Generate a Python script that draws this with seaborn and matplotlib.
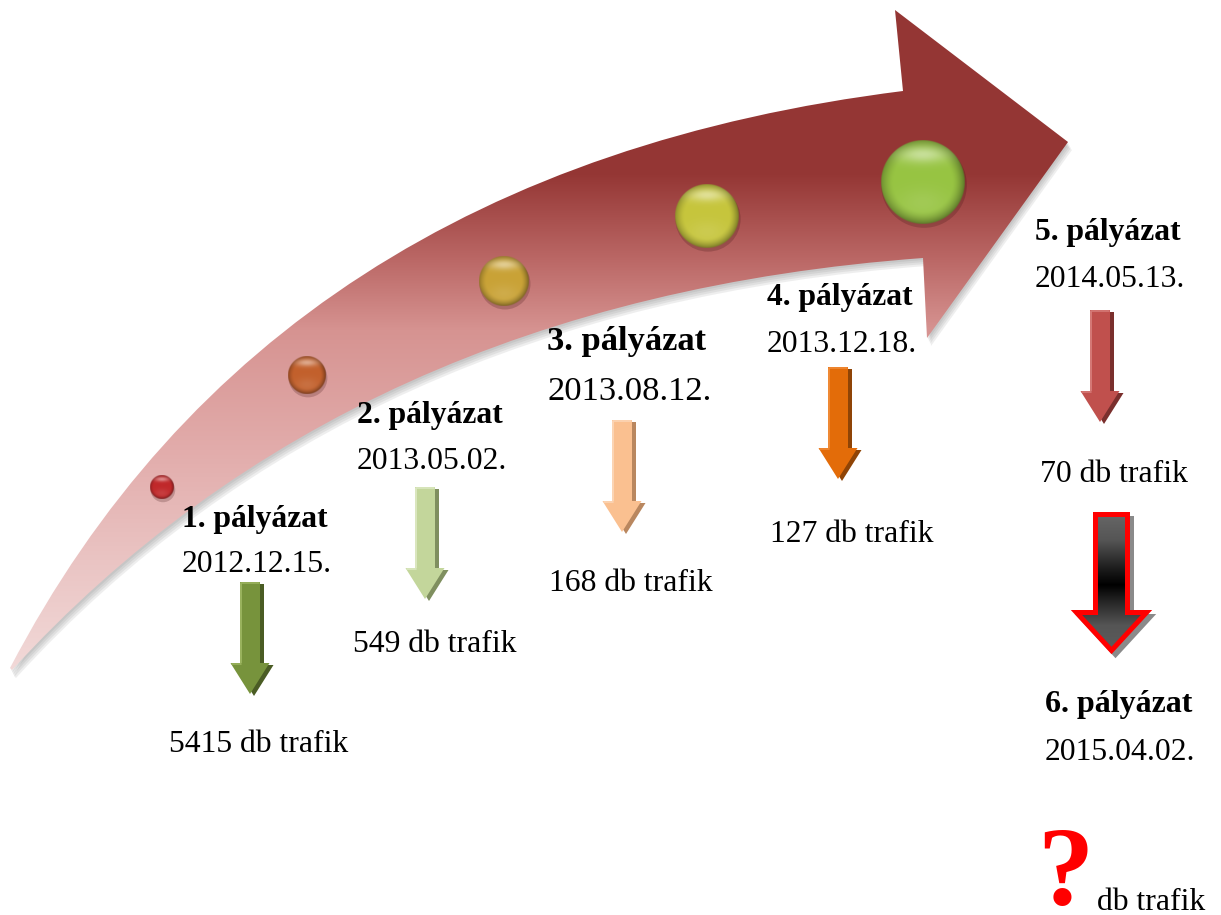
import numpy as np
import matplotlib
matplotlib.use("Agg")
import matplotlib.pyplot as plt
import seaborn as sns
from matplotlib.path import Path
from matplotlib.patches import PathPatch, Polygon
from matplotlib.colors import to_rgb

# ---------------- data ----------------
rounds = ["1. pályázat", "2. pályázat", "3. pályázat", "4. pályázat", "5. pályázat", "6. pályázat"]
dates = ["2012.12.15.", "2013.05.02.", "2013.08.12.", "2013.12.18.", "2014.05.13.", "2015.04.02."]
counts = [5415, 549, 168, 127, 70]
unknown_mark = "?"
unit_text = "db trafik"

# ---------------- layout (pixel coordinates) ----------------
W, H = 1221, 915
label_pos = [(255, 527), (430, 423), (627, 350), (840, 305), (1108, 240), (1119, 712)]
date_pos = [(257, 572), (432, 469), (630, 400), (842, 352), (1110, 287), (1120, 760)]
count_pos = [(259, 752), (435, 652), (631, 591), (852, 542), (1114, 482)]
label_fs = [22.8, 22.8, 24.8, 22.8, 22.8, 23.0]
date_fs = [22.8, 22.8, 24.8, 22.8, 22.8, 22.8]
arrow_cx = [250, 425, 622, 838, 1100]
arrow_top = [582, 487, 420, 367, 310]
arrow_len = 112
arrow_cols = ["#77933c", "#c3d69b", "#fac090", "#e36c09", "#c0504d"]
arrow_dark = ["#4a5c24", "#7f8f5f", "#b9875f", "#8f4406", "#7a2f2d"]
arrow_light = ["#9ab35e", "#dbe7c0", "#fcd5b5", "#f08a36", "#d57a77"]
ball_x = [162, 307, 504, 707, 923]
ball_y = [487, 375, 281, 216, 182]
ball_r = [12, 19, 25, 32, 42]
ball_cols = ["#c0282a", "#c2602c", "#c9a236", "#c6c53c", "#97c442"]

sns.set_theme(style="white")
plt.rcParams['font.family'] = ['Liberation Serif', 'DejaVu Serif']

fig = plt.figure(figsize=(W / 100, H / 100), dpi=100)
ax = fig.add_axes([0, 0, 1, 1])
ax.set_xlim(0, W)
ax.set_ylim(H, 0)
ax.set_axis_off()


def interp_colors(ys, stops):
    sy = [s[0] for s in stops]
    cs = np.array([to_rgb(s[1]) for s in stops])
    return np.stack([np.interp(ys, sy, cs[:, k]) for k in range(3)], axis=-1)


# ---------------- big curved arrow ----------------
verts = [(10, 668), (270, 170), (903, 91), (895, 10), (1068, 142), (927, 338),
         (923, 258), (350, 300), (12, 670), (10, 668)]
codes = [Path.MOVETO, Path.CURVE3, Path.CURVE3, Path.LINETO, Path.LINETO, Path.LINETO,
         Path.LINETO, Path.CURVE3, Path.CURVE3, Path.CLOSEPOLY]
big_path = Path(verts, codes)

# soft shadow
for k, (dx, dy) in enumerate([(1, 2), (2, 4), (3, 6), (4, 8)]):
    sp = Path(np.array(verts) + np.array([dx, dy]), codes)
    ax.add_patch(PathPatch(sp, facecolor="#606060", edgecolor="none", alpha=0.10, zorder=1))

clip_patch = PathPatch(big_path, facecolor="none", edgecolor="none", zorder=2)
ax.add_patch(clip_patch)
ys = np.arange(0, H) + 0.5
stops = [(0, "#943634"), (175, "#953735"), (260, "#bb6866"), (330, "#d69391"),
         (450, "#e2acab"), (560, "#eac4c3"), (690, "#f3dddc"), (915, "#f6e6e6")]
grad = interp_colors(ys, stops)[:, None, :]
im = ax.imshow(grad, extent=[0, W, H, 0], aspect="auto", interpolation="bilinear", zorder=2)
im.set_clip_path(clip_patch)

# ---------------- balls ----------------
bx = np.array(ball_x, float)
by = np.array(ball_y, float)
br = np.array(ball_r, float)
# drop shadows via seaborn
sns.scatterplot(x=bx + 1, y=by + 3, s=(2 * br * 0.72 * 1.02) ** 2, color="#3a1010",
                alpha=0.22, edgecolor="none", legend=False, ax=ax, zorder=3)

for cx, cy, r, c in zip(ball_x, ball_y, ball_r, ball_cols):
    n = 240
    u = np.linspace(-1, 1, n)
    U, V = np.meshgrid(u, u)
    D = np.sqrt(U ** 2 + V ** 2)
    base = np.array(to_rgb(c))
    dark = np.clip((D - 0.7) / 0.3, 0, 1) ** 1.5 * 0.38
    dark = dark * (0.7 + 0.3 * np.clip((U + V) / 1.4 + 0.5, 0, 1))
    col = base[None, None, :] * (1 - dark[..., None])
    hl = np.exp(-((U / 0.6) ** 2 + ((V + 0.66) / 0.2) ** 2)) * 0.45
    col = col * (1 - hl[..., None]) + hl[..., None]
    low = np.exp(-((U / 0.6) ** 2 + ((V - 0.5) / 0.35) ** 2)) * 0.10
    col = col * (1 - low[..., None]) + low[..., None]
    alpha = np.clip((1 - D) * r + 0.5, 0, 1)
    rgba = np.dstack([np.clip(col, 0, 1), alpha])
    ax.imshow(rgba, extent=[cx - r, cx + r, cy + r, cy - r], interpolation="bilinear", zorder=4)

# ---------------- small down arrows ----------------
def arrow_poly(cx, top, length, bw, hw, hl):
    hs = top + length - hl
    return [(cx - bw / 2, top), (cx + bw / 2, top), (cx + bw / 2, hs), (cx + hw / 2, hs),
            (cx, top + length), (cx - hw / 2, hs), (cx - bw / 2, hs)]

for cx, top, c, cd, cl in zip(arrow_cx, arrow_top, arrow_cols, arrow_dark, arrow_light):
    shadow = np.array(arrow_poly(cx, top, arrow_len, 20, 39, 31)) + np.array([4, 2])
    ax.add_patch(Polygon(shadow, closed=True, facecolor=cd, edgecolor="none", zorder=3))
    main = arrow_poly(cx, top, arrow_len, 20, 39, 31)
    ax.add_patch(Polygon(main, closed=True, facecolor=c, edgecolor="none", zorder=4))
    hs = top + arrow_len - 31
    ax.plot([cx - 9.5, cx - 9.5], [top + 1, hs], color=cl, lw=1.4, zorder=5, solid_capstyle="butt")
    ax.plot([cx - 9.5, cx + 9], [top + 0.8, top + 0.8], color=cl, lw=1.2, zorder=5)
    ax.plot([cx - 18.5, cx - 9.5], [hs + 0.6, hs + 0.6], color=cl, lw=1.2, zorder=5)

# ---------------- big black/red arrow ----------------
bcx = 1111.5
big = arrow_poly(bcx, 514.5, 136, 32, 70, 38)
sh = np.array(big) + np.array([4, 4])
ax.add_patch(Polygon(sh, closed=True, facecolor="#8a8a8a", edgecolor="#8a8a8a", lw=3.6, zorder=3))
bp = Polygon(big, closed=True, facecolor="none", edgecolor="none", zorder=4)
ax.add_patch(bp)
gstops = [(500, "#707070"), (540, "#555555"), (570, "#1a1a1a"), (585, "#000000"),
          (600, "#222222"), (625, "#555555"), (660, "#5e5e5e")]
g2 = interp_colors(ys, gstops)[:, None, :]
im2 = ax.imshow(g2, extent=[0, W, H, 0], aspect="auto", interpolation="bilinear", zorder=4)
im2.set_clip_path(bp)
ax.add_patch(Polygon(big, closed=True, facecolor="none", edgecolor="#ff0000", lw=3.6,
                     joinstyle="miter", zorder=5))

# ---------------- texts ----------------
FS = 22.8
for (x, y), t, fs in zip(label_pos, rounds, label_fs):
    ax.text(x, y, t, ha="center", va="baseline", fontsize=fs, fontweight="bold", color="black", zorder=6)
for (x, y), t, fs in zip(date_pos, dates, date_fs):
    ax.text(x, y, t, ha="center", va="baseline", fontsize=fs, color="black", zorder=6)
for (x, y), c in zip(count_pos, counts):
    ax.text(x, y, f"{c} {unit_text}", ha="center", va="baseline", fontsize=FS, color="black", zorder=6)
ax.text(1065, 904, unknown_mark, ha="center", va="baseline", fontsize=81, fontweight="bold",
        color="#ff0000", zorder=6)
ax.text(1097, 910, unit_text, ha="left", va="baseline", fontsize=FS, color="black", zorder=6)

ax.set_xlim(0, W)
ax.set_ylim(H, 0)
fig.savefig("out.png", dpi=100)
